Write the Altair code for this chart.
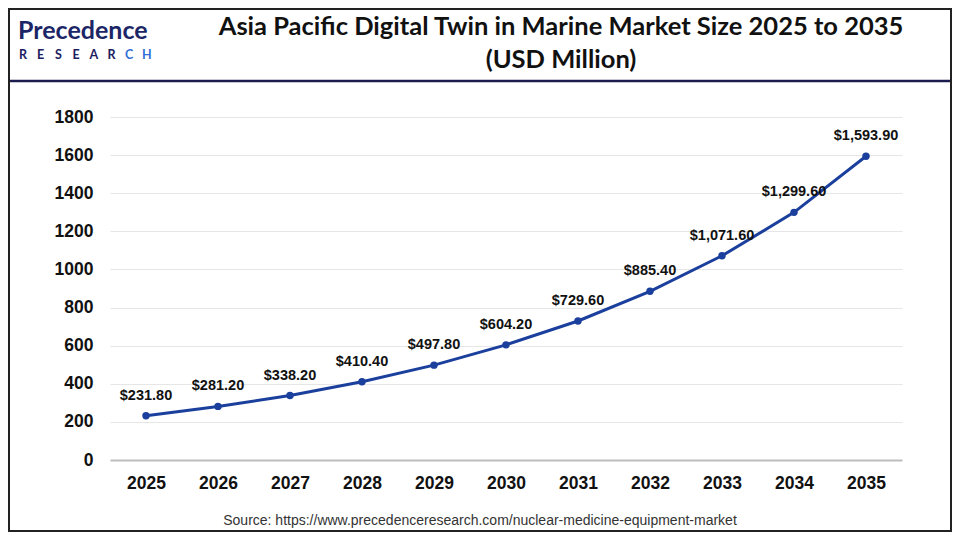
import altair as alt
import pandas as pd

years = ["2025", "2026", "2027", "2028", "2029", "2030", "2031", "2032", "2033", "2034", "2035"]
values = [231.80, 281.20, 338.20, 410.40, 497.80, 604.20, 729.60, 885.40, 1071.60, 1299.60, 1593.90]
labels = ["$231.80", "$281.20", "$338.20", "$410.40", "$497.80", "$604.20", "$729.60",
          "$885.40", "$1,071.60", "$1,299.60", "$1,593.90"]
y_ticks = [0, 200, 400, 600, 800, 1000, 1200, 1400, 1600, 1800]
title_lines = ["Asia Pacific Digital Twin in Marine Market Size 2025 to 2035", "(USD Million)"]
source_text = "Source: https://www.precedenceresearch.com/nuclear-medicine-equipment-market"
logo_word = "Precedence"
logo_sub = "RESEARCH"

df = pd.DataFrame({"year": years, "value": values, "label": labels})

W, H = 792, 343
PAD_L, PAD_T = 102, 109
TOTAL_W, TOTAL_H = 944, 524
LINE_COLOR = "#1b3f9c"
FONT = "Liberation Sans"

x_enc = alt.X("year:O", scale=alt.Scale(paddingInner=1, paddingOuter=0.5),
              axis=alt.Axis(title=None, labelAngle=0, labelFontSize=17.5, labelFontWeight="bold",
                            labelColor="#111", labelFont=FONT, labelPadding=14, ticks=False,
                            domain=True, domainColor="#bdbdbd", domainWidth=2, grid=False))
y_enc = alt.Y("value:Q", scale=alt.Scale(domain=[0, 1800]),
              axis=alt.Axis(title=None, values=y_ticks, format="d", labelOverlap=False,
                            labelFontSize=17.5, labelFontWeight="bold",
                            labelColor="#111", labelFont=FONT, labelPadding=17, ticks=False,
                            domain=False, grid=True, gridColor="#e6e6e6", gridWidth=1))

base = alt.Chart(df).encode(x=x_enc, y=y_enc)
line = base.mark_line(color=LINE_COLOR, strokeWidth=3)
pts = base.mark_point(filled=True, color=LINE_COLOR, size=55, opacity=1)
txt = base.mark_text(dy=-20, fontSize=14.5, fontWeight="bold", font=FONT, color="#111").encode(text="label:N")

one = alt.Data(values=[{"a": 1}])

def annot(text, x, y, **kw):
    return alt.Chart(one).mark_text(text=text, **kw).encode(x=alt.value(x), y=alt.value(y))

layers = [line, pts, txt]
layers.append(annot(title_lines[0], 451, -90, fontSize=25.5, fontWeight="bold", font="Lato", color="#111", align="center"))
layers.append(annot(title_lines[1], 451, -57, fontSize=25.5, fontWeight="bold", font="Lato", color="#111", align="center"))
layers.append(annot(source_text, 370, 404, fontSize=14, font=FONT, color="#333", align="center"))
layers.append(annot(logo_word, -92, -78, fontSize=25, fontWeight="bold", font="Lato", color="#1c2566",
                    align="left", baseline="alphabetic"))
for i, ch in enumerate(logo_sub):
    col = "#2f6fd6" if i >= 6 else "#1c2060"
    layers.append(annot(ch, -87 + i * 17.7, -62, fontSize=12.5, fontWeight="bold", font="Lato", color=col, align="center"))

layers.append(alt.Chart(one).mark_rule(color="#1c1c4f", strokeWidth=2.5).encode(
    x=alt.value(-PAD_L), x2=alt.value(TOTAL_W - PAD_L), y=alt.value(-36)))
layers.append(alt.Chart(one).mark_rect(fill=None, stroke="#222", strokeWidth=2).encode(
    x=alt.value(-PAD_L + 1), x2=alt.value(TOTAL_W - PAD_L - 1),
    y=alt.value(-PAD_T + 1), y2=alt.value(TOTAL_H - PAD_T - 1)))

chart = alt.layer(*layers).properties(
    width=W, height=H,
    autosize=alt.AutoSizeParams(type="none"),
    padding={"left": PAD_L, "top": PAD_T, "right": TOTAL_W - PAD_L - W, "bottom": TOTAL_H - PAD_T - H},
    background="white",
).configure_view(stroke=None).configure_axis(labelOverlap=False)

chart.save("out.html", embed_options={"renderer": "svg", "actions": False})
